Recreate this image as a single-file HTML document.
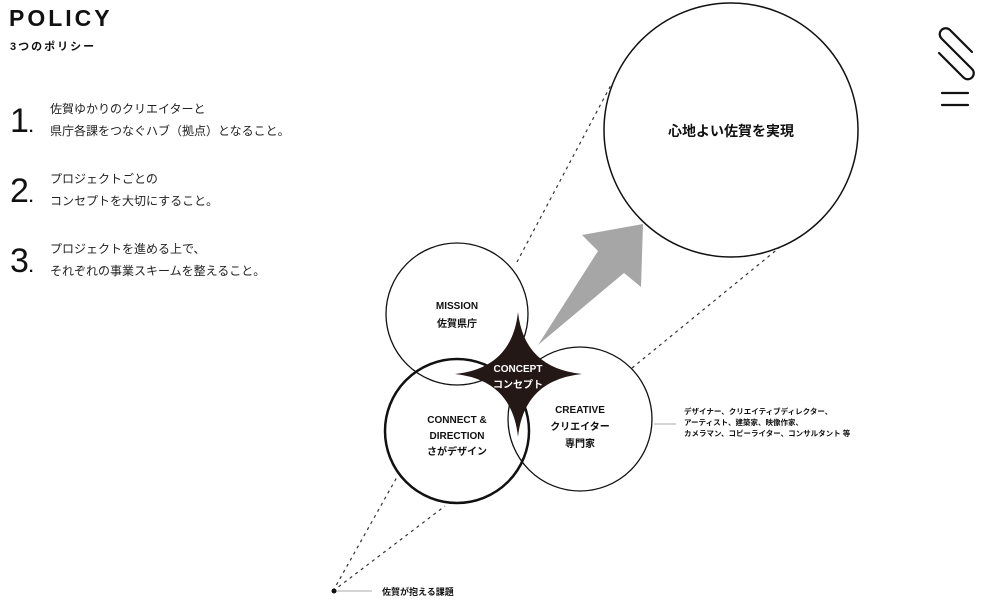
<!DOCTYPE html>
<html><head><meta charset="utf-8"><style>
body{margin:0;width:1000px;height:601px;background:#fff;overflow:hidden;position:relative;font-family:"Liberation Sans","Noto Sans CJK JP",sans-serif;color:#111}
.a{position:absolute;white-space:nowrap}
.t{font-size:12px;line-height:22px;color:#222}
.n{font-size:34px;font-weight:300;line-height:34px}
</style></head><body>
<div class="a" style="left:9px;top:5px;font-size:23px;font-weight:bold;letter-spacing:3px">POLICY</div>
<div class="a" style="left:10px;top:38px;font-size:11px;font-weight:bold;letter-spacing:2px">3つのポリシー</div>

<div class="a n" style="left:10px;top:104px">1<span style="font-size:16px;font-weight:bold">.</span></div>
<div class="a t" style="left:50px;top:98px">佐賀ゆかりのクリエイターと<br>県庁各課をつなぐハブ（拠点）となること。</div>
<div class="a n" style="left:10px;top:174px">2<span style="font-size:16px;font-weight:bold">.</span></div>
<div class="a t" style="left:50px;top:168px">プロジェクトごとの<br>コンセプトを大切にすること。</div>
<div class="a n" style="left:10px;top:244px">3<span style="font-size:16px;font-weight:bold">.</span></div>
<div class="a t" style="left:50px;top:238px">プロジェクトを進める上で、<br>それぞれの事業スキームを整えること。</div>

<svg class="a" style="left:0;top:0" width="1000" height="601">
<g stroke="#333" stroke-width="1.2" stroke-dasharray="3,4" fill="none">
<line x1="517" y1="262" x2="612" y2="83"/>
<line x1="632" y1="368" x2="785" y2="243"/>
<line x1="333" y1="591" x2="397" y2="477"/>
<line x1="333" y1="591" x2="445" y2="506"/>
</g>
<circle cx="731" cy="130" r="127" fill="#fff" stroke="#111" stroke-width="1.5"/>
<polygon points="538,345 598,251 582,235 643,224 641,287 624,273" fill="#a6a6a6"/>
<circle cx="457" cy="314" r="71" fill="none" stroke="#111" stroke-width="1.3"/>
<circle cx="580" cy="419" r="72" fill="none" stroke="#111" stroke-width="1.3"/>
<circle cx="457" cy="431" r="72" fill="none" stroke="#111" stroke-width="2.5"/>
<path d="M518,312 Q524,368 582,374 Q524,380 518,437 Q512,380 455,374 Q512,368 518,312Z" fill="#231815"/>
<line x1="654" y1="424" x2="676" y2="424" stroke="#aaa" stroke-width="1"/>
<line x1="336" y1="591" x2="372" y2="591" stroke="#aaa" stroke-width="1"/>
<circle cx="334" cy="591" r="2.5" fill="#111"/>
<g stroke="#111" stroke-width="2.2" fill="none" stroke-linecap="round">
<path d="M972,52 L950,30 A6,6 0 0 0 941.5,38.5 L972,69 A6,6 0 0 1 963.5,77.5 L939,53"/>
<line x1="942" y1="93" x2="968" y2="93"/>
<line x1="942" y1="105" x2="968" y2="105"/>
</g>
</svg>

<div class="a" style="left:603px;top:121px;width:256px;text-align:center;font-size:14px;font-weight:bold">心地よい佐賀を実現</div>
<div class="a" style="left:387px;top:298px;width:140px;text-align:center;font-size:10px;font-weight:bold;line-height:18px">MISSION<br>佐賀県庁</div>
<div class="a" style="left:458px;top:362px;width:120px;text-align:center;font-size:10px;font-weight:bold;line-height:16px;color:#fff">CONCEPT<br>コンセプト</div>
<div class="a" style="left:508px;top:402px;width:144px;text-align:center;font-size:10px;font-weight:bold;line-height:17px">CREATIVE<br>クリエイター<br>専門家</div>
<div class="a" style="left:387px;top:413px;width:140px;text-align:center;font-size:10px;font-weight:bold;line-height:16px">CONNECT &amp;<br>DIRECTION<br>さがデザイン</div>
<div class="a" style="left:684px;top:406px;font-size:7.5px;font-weight:bold;line-height:11px">デザイナー、クリエイティブディレクター、<br>アーティスト、建築家、映像作家、<br>カメラマン、コピーライター、コンサルタント 等</div>
<div class="a" style="left:382px;top:585px;font-size:9px;font-weight:bold">佐賀が抱える課題</div>
</body></html>
